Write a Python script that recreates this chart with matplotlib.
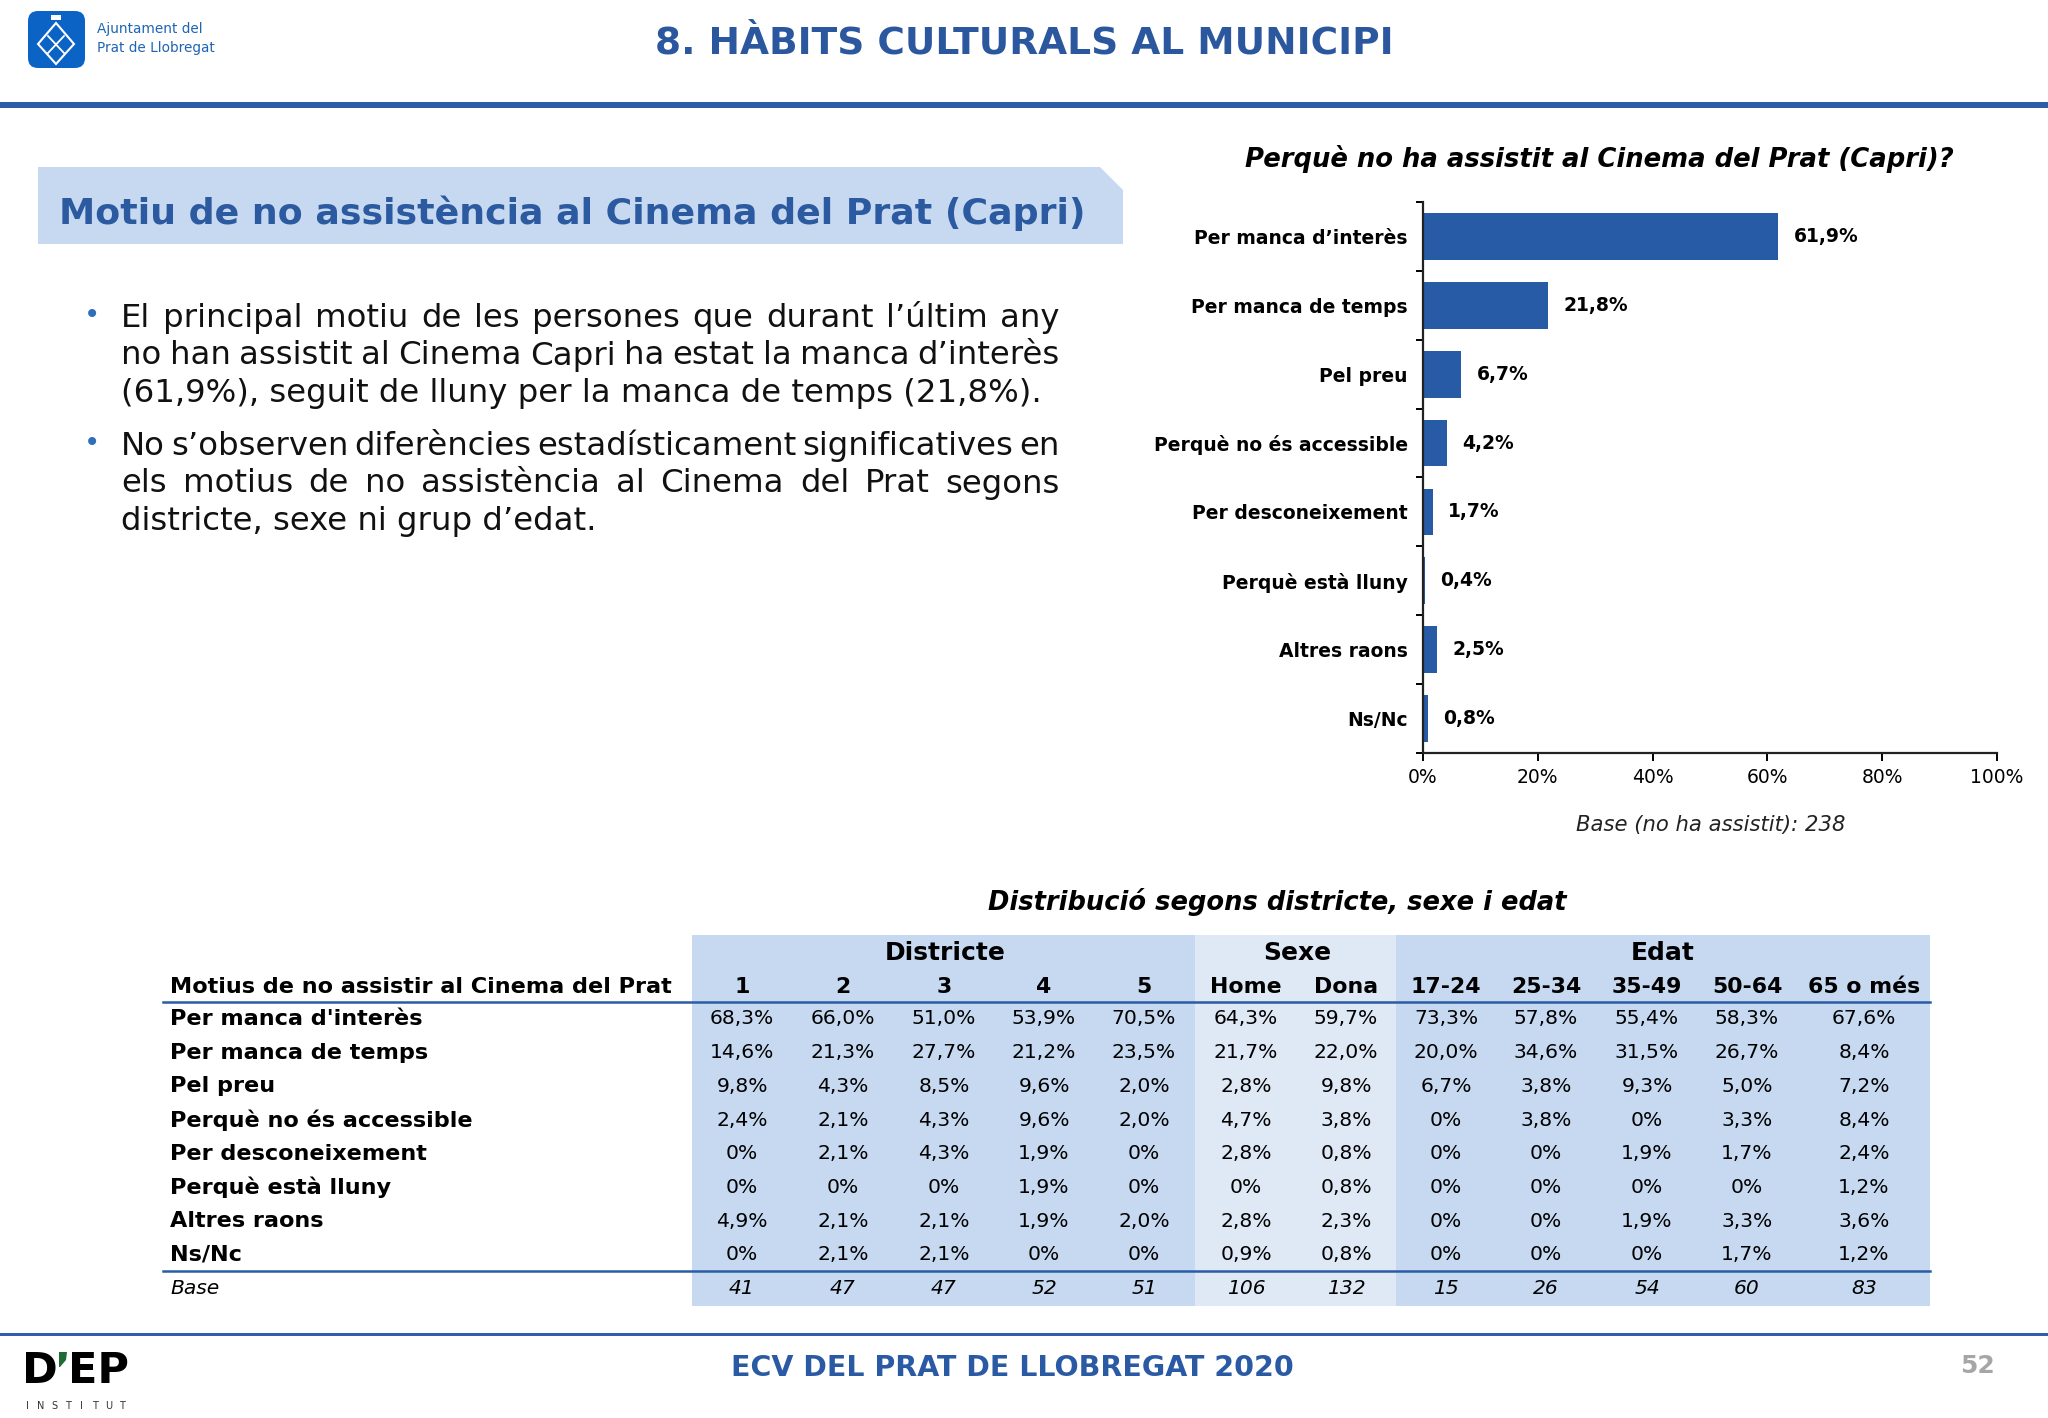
import matplotlib
matplotlib.use('Agg')
import matplotlib.pyplot as plt
from matplotlib.patches import Rectangle, Polygon, FancyBboxPatch
from matplotlib import font_manager

plt.rcParams['font.family'] = ['DejaVu Sans']

# dades del gràfic de barres
motius = ['Per manca d’interès', 'Per manca de temps', 'Pel preu',
          'Perquè no és accessible', 'Per desconeixement', 'Perquè està lluny',
          'Altres raons', 'Ns/Nc']
percentatges = [61.9, 21.8, 6.7, 4.2, 1.7, 0.4, 2.5, 0.8]
x_ticks = [0, 20, 40, 60, 80, 100]

# dades de la taula
districtes = ['1', '2', '3', '4', '5']
sexes = ['Home', 'Dona']
edats = ['17-24', '25-34', '35-49', '50-64', '65 o més']
files_taula = ["Per manca d'interès", 'Per manca de temps', 'Pel preu',
               'Perquè no és accessible', 'Per desconeixement',
               'Perquè està lluny', 'Altres raons', 'Ns/Nc']
interes = [68.3, 66.0, 51.0, 53.9, 70.5, 64.3, 59.7, 73.3, 57.8, 55.4, 58.3, 67.6]
temps = [14.6, 21.3, 27.7, 21.2, 23.5, 21.7, 22.0, 20.0, 34.6, 31.5, 26.7, 8.4]
preu = [9.8, 4.3, 8.5, 9.6, 2.0, 2.8, 9.8, 6.7, 3.8, 9.3, 5.0, 7.2]
accessible = [2.4, 2.1, 4.3, 9.6, 2.0, 4.7, 3.8, 0, 3.8, 0, 3.3, 8.4]
desconeixement = [0, 2.1, 4.3, 1.9, 0, 2.8, 0.8, 0, 0, 1.9, 1.7, 2.4]
lluny = [0, 0, 0, 1.9, 0, 0, 0.8, 0, 0, 0, 0, 1.2]
altres = [4.9, 2.1, 2.1, 1.9, 2.0, 2.8, 2.3, 0, 0, 1.9, 3.3, 3.6]
nsnc = [0, 2.1, 2.1, 0, 0, 0.9, 0.8, 0, 0, 0, 1.7, 1.2]
bases = [41, 47, 47, 52, 51, 106, 132, 15, 26, 54, 60, 83]
valors_taula = [interes, temps, preu, accessible, desconeixement, lluny, altres, nsnc]

bullet1 = ['El principal motiu de les persones que durant l’últim any',
           'no han assistit al Cinema Capri ha estat la manca d’interès',
           '(61,9%), seguit de lluny per la manca de temps (21,8%).']
bullet2 = ['No s’observen diferències estadísticament significatives en',
           'els motius de no assistència al Cinema del Prat segons',
           'districte, sexe ni grup d’edat.']

BLAU = '#2B579F'
BARRA = '#285BA5'

def fmt(v):
    if v == 0:
        return '0%'
    return ('%.1f' % v).replace('.', ',') + '%'

fig = plt.figure(figsize=(20.48, 14.18), dpi=100)
ax0 = fig.add_axes([0, 0, 1, 1])
ax0.set_xlim(0, 2048)
ax0.set_ylim(1418, 0)
ax0.axis('off')

# capçalera
ax0.add_patch(FancyBboxPatch((28, 11), 57, 57, boxstyle='round,pad=0,rounding_size=10',
                             fc='#0C63C6', ec='none'))
ax0.add_patch(Polygon([(56, 23), (74, 44), (56, 64), (38, 44)], closed=True,
                      fc='none', ec='white', lw=1.5))
ax0.plot([48, 64], [36, 53], color='white', lw=1.3)
ax0.plot([64, 48], [36, 53], color='white', lw=1.3)
ax0.add_patch(Rectangle((51, 15), 10, 5, fc='white', ec='none'))
noms = {f.name for f in font_manager.fontManager.ttflist}
if 'Liberation Sans Narrow' in noms:
    ajfont, ajsize = 'Liberation Sans Narrow', 13
else:
    ajfont, ajsize = 'DejaVu Sans', 9.8
ax0.text(97, 29, 'Ajuntament del', family=ajfont, fontsize=ajsize, color='#1F64B4', va='center')
ax0.text(97, 48, 'Prat de Llobregat', family=ajfont, fontsize=ajsize, color='#1F64B4', va='center')
ax0.text(1024, 43, '8. HÀBITS CULTURALS AL MUNICIPI', fontsize=27, fontweight='bold',
         color=BLAU, ha='center', va='center')
ax0.add_patch(Rectangle((0, 102), 2048, 6, fc='#2C5CA6', ec='none'))

# requadre del títol de secció
ax0.add_patch(Polygon([(38, 167), (1100, 167), (1123, 190), (1123, 244), (38, 244)],
                      closed=True, fc='#C6D9F1', ec='none'))
ax0.text(59, 213, 'Motiu de no assistència al Cinema del Prat (Capri)', fontsize=26.2,
         fontweight='bold', color='#2C5AA0', va='center')

# text amb vinyetes, justificat
renderer = fig.canvas.get_renderer()
x_esq, x_dre = 121, 1060

def linia_justificada(text, y, justificar):
    if not justificar:
        ax0.text(x_esq, y, text, fontsize=23.3, color='#111111', va='baseline')
        return
    paraules = text.split(' ')
    objs = [ax0.text(0, y, p, fontsize=23.3, color='#111111', va='baseline') for p in paraules]
    amples = [o.get_window_extent(renderer).width for o in objs]
    espai = (x_dre - x_esq - sum(amples)) / (len(paraules) - 1)
    x = x_esq
    for o, w in zip(objs, amples):
        o.set_x(x)
        x += w + espai

for linies, y0 in [(bullet1, 327), (bullet2, 455)]:
    ax0.text(92, y0 - 12, '•', fontsize=20, color='#2F6EBA', ha='center', va='center')
    for i, t in enumerate(linies):
        linia_justificada(t, y0 + i * 37.5, i < len(linies) - 1)

# gràfic de barres
ax = fig.add_axes([1423 / 2048, 1 - 753 / 1418, 574 / 2048, 551 / 1418])
pos = list(range(len(motius)))
ax.barh(pos, percentatges, height=0.68, color=BARRA)
ax.set_ylim(len(motius) - 0.5, -0.5)
ax.set_xlim(0, 100)
ax.set_yticks(pos)
ax.set_yticklabels(motius, fontsize=13.5, fontweight='bold')
ax.set_yticks([p - 0.5 for p in pos] + [len(motius) - 0.5], minor=True)
ax.tick_params(axis='y', which='major', length=0, pad=11)
ax.tick_params(axis='y', which='minor', length=5, width=1.4, direction='out')
ax.set_xticks(x_ticks)
ax.set_xticklabels(['%d%%' % v for v in x_ticks], fontsize=13.5)
ax.tick_params(axis='x', length=6, width=1.4, pad=5)
for s in ['top', 'right']:
    ax.spines[s].set_visible(False)
for s in ['left', 'bottom']:
    ax.spines[s].set_linewidth(1.6)
    ax.spines[s].set_color('#222222')
for p, v in zip(pos, percentatges):
    ax.annotate(fmt(v), (v, p), xytext=(11, 0), textcoords='offset points',
                fontsize=13.5, fontweight='bold', va='center', ha='left')
ax0.text(1599, 159, 'Perquè no ha assistit al Cinema del Prat (Capri)?', fontsize=18.6,
         fontweight='bold', style='italic', ha='center', va='center')
ax0.text(1711, 825, 'Base (no ha assistit): 238', fontsize=15.2, style='italic',
         ha='center', va='center', color='#222222')

# taula
ax0.text(1277, 902, 'Distribució segons districte, sexe i edat', fontsize=18.5,
         fontweight='bold', style='italic', ha='center', va='center')
ax0.add_patch(Rectangle((692, 935), 503, 371, fc='#C6D9F1', ec='none'))
ax0.add_patch(Rectangle((1195, 935), 201, 371, fc='#DFE8F5', ec='none'))
ax0.add_patch(Rectangle((1396, 935), 534, 371, fc='#C6D9F1', ec='none'))

columnes = districtes + sexes + edats
col_x = [742, 843, 944, 1044, 1144, 1246, 1346, 1446, 1546, 1647, 1747, 1864]
ax0.text(945, 953, 'Districte', fontsize=18, fontweight='bold', ha='center', va='center')
ax0.text(1297, 953, 'Sexe', fontsize=18, fontweight='bold', ha='center', va='center')
ax0.text(1663, 953, 'Edat', fontsize=18, fontweight='bold', ha='center', va='center')
ax0.text(170, 987, 'Motius de no assistir al Cinema del Prat', fontsize=16.1,
         fontweight='bold', va='center')
for c, x in zip(columnes, col_x):
    ax0.text(x, 987, c, fontsize=15.8, fontweight='bold', ha='center', va='center')
ax0.plot([163, 1930], [1002, 1002], color='#2A5CA5', lw=1.8)

y_fila = 1019
for nom, vals in zip(files_taula, valors_taula):
    ax0.text(170, y_fila, nom, fontsize=16.1, fontweight='bold', va='center')
    for x, v in zip(col_x, vals):
        ax0.text(x, y_fila, fmt(v), fontsize=14.6, ha='center', va='center')
    y_fila += 33.7
ax0.plot([163, 1930], [1271, 1271], color='#2A5CA5', lw=1.8)
ax0.text(170, 1288, 'Base', fontsize=14.6, style='italic', va='center')
for x, b in zip(col_x, bases):
    ax0.text(x, 1288, str(b), fontsize=14.6, style='italic', ha='center', va='center')

# peu de pàgina
ax0.add_patch(Rectangle((0, 1333), 2048, 3, fc='#2F5FAA', ec='none'))
ax0.text(1012, 1368, 'ECV DEL PRAT DE LLOBREGAT 2020', fontsize=20.5, fontweight='bold',
         color='#2B5AA5', ha='center', va='center')
ax0.text(1977, 1366, '52', fontsize=18, fontweight='bold', color='#A6A6A6',
         ha='center', va='center')
# logo D'EP: lletres en negre i apòstrof verd dibuixat
ax0.text(22, 1383, 'D', fontsize=31, fontweight='bold', color='black', va='baseline')
ax0.add_patch(Polygon([(59, 1352), (67, 1352), (66, 1360), (60, 1367), (59, 1367)],
                      closed=True, fc='#1E6B33', ec='none'))
ax0.text(68, 1383, 'EP', fontsize=31, fontweight='bold', color='black', va='baseline')
for i, lletra in enumerate('INSTITUT'):
    ax0.text(27 + i * 13.6, 1406, lletra, fontsize=7, color='#333333',
             ha='center', va='center')

fig.savefig('out.png', dpi=100)
